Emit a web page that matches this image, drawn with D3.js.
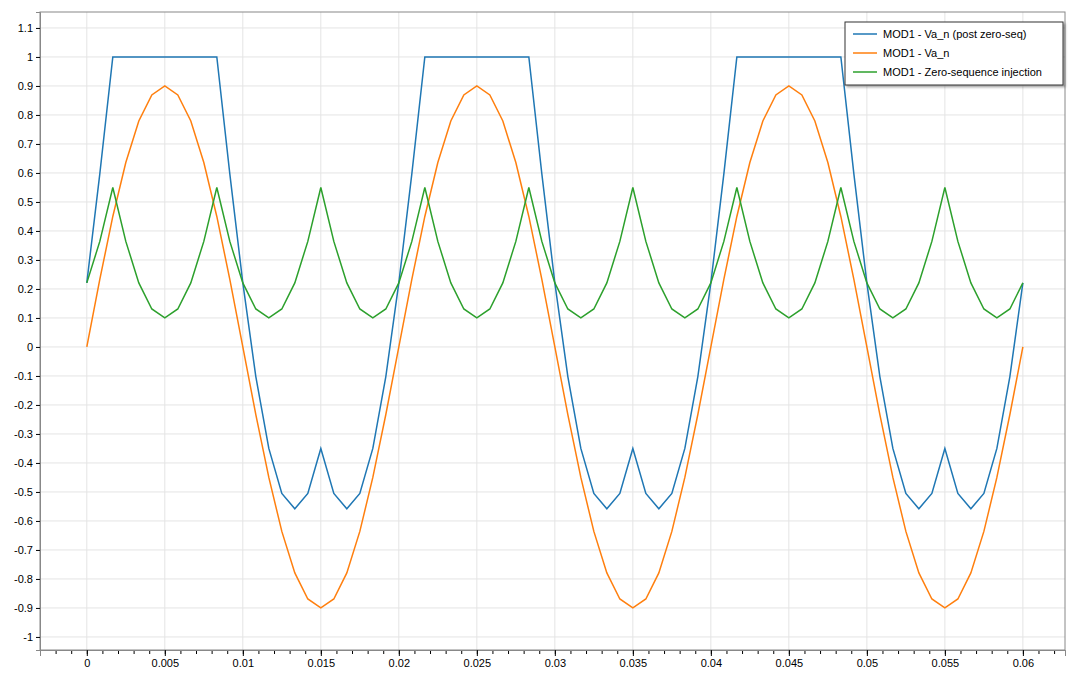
<!DOCTYPE html>
<html><head><meta charset="utf-8">
<script src="https://cdn.jsdelivr.net/npm/d3@7"></script>
<style>body{margin:0;background:#fff;font-family:"Liberation Sans",Arial,sans-serif;}</style>
</head><body><svg width="1070" height="677"></svg>
<script>
// one sample every 1/1200 s (15 electrical degrees)
var tStep = 1 / 1200;
var vaOne = [0, 0.233, 0.45, 0.636, 0.779, 0.869, 0.9, 0.869, 0.779, 0.636, 0.45, 0.233,
             0, -0.233, -0.45, -0.636, -0.779, -0.869, -0.9, -0.869, -0.779, -0.636, -0.45, -0.233];
var zsOne = [0.221, 0.364, 0.55, 0.364, 0.221, 0.131, 0.1, 0.131];
var postOne = [0.221, 0.597, 1, 1, 1, 1, 1, 1, 1, 1, 1, 0.597,
               0.221, -0.102, -0.35, -0.505, -0.558, -0.505, -0.35, -0.505, -0.558, -0.505, -0.35, -0.102];
var seriesNames = ['MOD1 - Va_n (post zero-seq)', 'MOD1 - Va_n', 'MOD1 - Zero-sequence injection'];
var colors = ['#1f77b4', '#ff7f0e', '#2ca02c'];
var nSamples = 73;

var va = [], zs = [], post = [];
for (var i = 0; i < nSamples; i++) {
  va.push(vaOne[i % 24]);
  zs.push(zsOne[i % 8]);
  post.push(postOne[i % 24]);
}
var series = [post, va, zs];

var svg = d3.select('svg');
var pLeft = 40, pRight = 1065, pTop = 12, pBottom = 650;
var x = d3.scaleLinear().domain([-0.003, 0.0627]).range([pLeft, pRight]);
var y = d3.scaleLinear().domain([1.155, -1.045]).range([pTop, pBottom]);

// grid
var xt = d3.range(0, 0.0601, 0.005), yt = d3.range(-10, 12).map(function(d){return d / 10;});
svg.append('g').selectAll('line').data(xt).enter().append('line')
  .attr('x1', function(d){return x(d);}).attr('x2', function(d){return x(d);})
  .attr('y1', pTop).attr('y2', pBottom).attr('stroke', '#e4e4e4');
svg.append('g').selectAll('line').data(yt).enter().append('line')
  .attr('x1', pLeft).attr('x2', pRight)
  .attr('y1', function(d){return y(d);}).attr('y2', function(d){return y(d);}).attr('stroke', '#e4e4e4');

svg.append('rect').attr('x', pLeft).attr('y', pTop).attr('width', pRight - pLeft).attr('height', pBottom - pTop)
  .attr('fill', 'none').attr('stroke', '#888');

// axes
svg.append('g').attr('transform', 'translate(0,' + pBottom + ')')
  .call(d3.axisBottom(x).tickValues(d3.range(-0.002, 0.0626, 0.001)).tickSize(4).tickFormat(''));
svg.append('g').attr('transform', 'translate(0,' + pBottom + ')')
  .call(d3.axisBottom(x).tickValues(xt).tickSize(6).tickFormat(function(d){return +d.toFixed(3);}))
  .call(function(g){ g.selectAll('text').attr('font-size', 11).attr('fill', '#000'); });
svg.append('g').attr('transform', 'translate(' + pLeft + ',0)')
  .call(d3.axisLeft(y).tickValues(yt).tickSize(4).tickFormat(function(d){return +d.toFixed(1);}))
  .call(function(g){ g.selectAll('text').attr('font-size', 11).attr('fill', '#000'); });
svg.selectAll('.domain').attr('stroke', '#888');

var line = d3.line().x(function(d, i){return x(i * tStep);}).y(function(d){return y(d);});
series.forEach(function(s, k){
  svg.append('path').datum(s).attr('d', line).attr('fill', 'none')
    .attr('stroke', colors[k]).attr('stroke-width', 1.5);
});

// legend
var lg = svg.append('g').attr('transform', 'translate(845,22)');
lg.append('rect').attr('width', 218).attr('height', 63).attr('fill', '#fff').attr('stroke', '#333')
  .style('filter', 'drop-shadow(2px 2px 1px rgba(0,0,0,0.3))');
seriesNames.forEach(function(n, k){
  var yy = 12 + k * 19;
  lg.append('line').attr('x1', 8).attr('x2', 32).attr('y1', yy).attr('y2', yy)
    .attr('stroke', colors[k]).attr('stroke-width', 1.5);
  lg.append('text').attr('x', 38).attr('y', yy + 4).attr('font-size', 11).text(n);
});
</script></body></html>
